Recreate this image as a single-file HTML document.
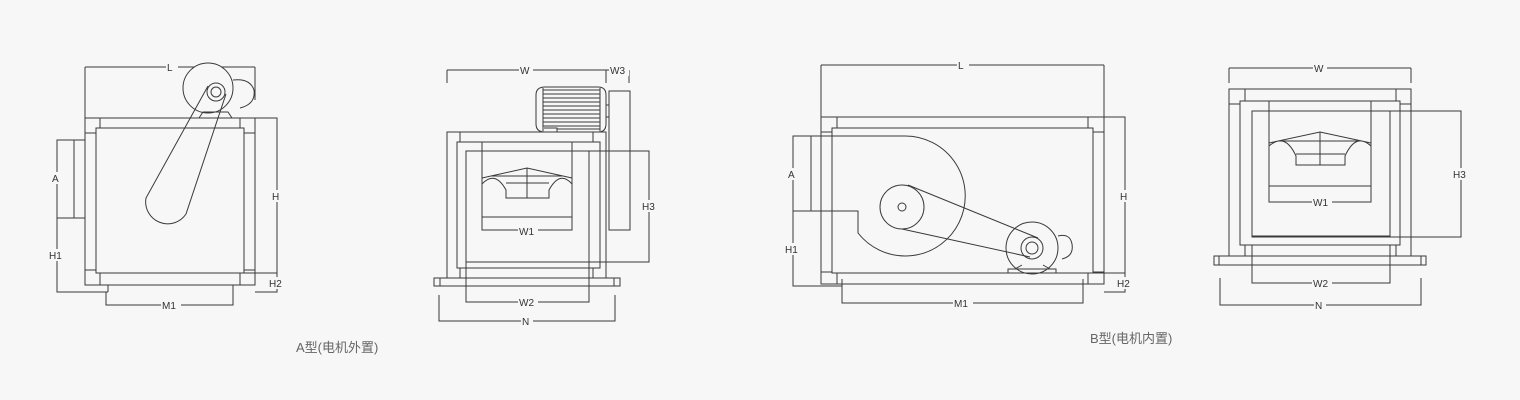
<!DOCTYPE html>
<html><head><meta charset="utf-8"><style>
html,body{margin:0;padding:0;background:#f7f7f7;}
svg{display:block}
text{font-family:"Liberation Sans","Noto Sans CJK SC",sans-serif;fill:#333;font-size:10px;}
.cap{fill:#666;font-size:13px;}
</style></head><body>
<svg width="1520" height="400" viewBox="0 0 1520 400" xmlns="http://www.w3.org/2000/svg">
<g fill="none" stroke="#3a3a3a" stroke-width="1">
<!-- ===== Drawing A side ===== -->
<path d="M85,67H255M85,67V118M255,67V100"/>
<rect x="85" y="118" width="170" height="167"/>
<rect x="96" y="128" width="148" height="145"/>
<path d="M100,118V128M240,118V128M100,273V285M240,273V285M85,133H96M244,133H255M85,270H96M244,270H255"/>
<rect x="57" y="140" width="28" height="78"/>
<path d="M74,140V218"/>
<path d="M57,140V292H108M108,285V292"/>
<path d="M106,292V305H233V292M233,285V292"/>
<path d="M255,118H277V292H255M244,273H277"/>
<circle cx="208" cy="88" r="25" fill="#f7f7f7"/>
<circle cx="216" cy="92" r="9"/><circle cx="216" cy="92" r="5"/>
<path d="M233,80Q250,78 254,90Q256,104 240,108"/>
<path d="M199,118L203,112H228L232,118"/>
<path d="M208,86L146,198A22,22 0 0 0 186,214L226,94"/>
<!-- ===== Drawing A front ===== -->
<path d="M447,70H606M447,70V83M606,70V83M606,70H629M629,70V83"/>
<path d="M545,87H598Q606,87 606,95V124Q606,132 598,132H545Q536,132 536,124V95Q536,87 545,87Z"/>
<path d="M543,90H600M543,94H600M543,98H600M543,102H600M543,106H600M543,110H600M543,114H600M543,118H600M543,122H600M543,126H600"/>
<path d="M543,88V131M600,88V131M544,128H557V132M557,129H600"/>
<rect x="606" y="105" width="3" height="12"/>
<rect x="609" y="91" width="21" height="139"/>
<rect x="447" y="132" width="159" height="146"/>
<path d="M460,132V142M460,268V278M593,132V142M593,268V278"/>
<rect x="457" y="142" width="143" height="126" fill="#f7f7f7"/>
<rect x="466" y="151" width="123" height="111"/>
<rect x="482" y="142" width="90" height="88"/>
<path d="M482,217H572"/>
<path d="M482,178L527,168L572,178M492,176H562M506,183H549M527,168V198M482,184Q495,170 506,190V198H549V190Q560,170 572,184"/>
<path d="M589,151H649V262H589"/>
<rect x="434" y="278" width="186" height="8"/>
<path d="M440,278V286M614,278V286"/>
<path d="M466,262V302H589V262"/>
<path d="M439,295V321H615V295"/>
<!-- ===== Drawing B side ===== -->
<path d="M821,65H1104M821,65V117M1104,65V117"/>
<rect x="821" y="117" width="283" height="167"/>
<rect x="832" y="128" width="261" height="145"/>
<path d="M837,117V128M1088,117V128M837,273V284M1088,273V284M821,132H832M1093,132H1104M821,272H832M1093,272H1104"/>
<rect x="793" y="136" width="28" height="75"/>
<path d="M811,136V211"/>
<path d="M821,136H905A60,60 0 1 1 858,233V211H821"/>
<circle cx="902" cy="207" r="22"/><circle cx="902" cy="207" r="4"/>
<circle cx="1032" cy="248" r="26"/><circle cx="1032" cy="248" r="11"/><circle cx="1032" cy="248" r="6"/>
<path d="M1058,236Q1070,233 1072,244Q1074,256 1062,259"/>
<path d="M908,185L1038,238M902,229L1030,257"/>
<path d="M1008,273V269H1056V273M1015,269L1022,265M1050,269L1043,265"/>
<path d="M793,136V286H842M842,279V290"/>
<path d="M842,290V303H1083V290M1083,279V290"/>
<path d="M1104,117H1125V292H1104M1093,273H1125"/>
<!-- ===== Drawing B front ===== -->
<path d="M1229,68H1411M1229,68V83M1411,68V83"/>
<rect x="1229" y="89" width="182" height="167"/>
<path d="M1245,89V101M1396,89V101M1245,245V256M1396,245V256M1229,104H1240M1400,104H1411"/>
<rect x="1240" y="101" width="160" height="144" fill="#f7f7f7"/>
<rect x="1252" y="111" width="138" height="126"/>
<path d="M1252,236H1390"/>
<rect x="1269" y="101" width="102" height="101"/>
<path d="M1269,186H1371"/>
<path d="M1269,143L1320,132L1371,143M1280,141H1360M1296,154H1345M1320,132V165M1269,146Q1285,132 1296,156V165H1345V156Q1356,132 1371,146"/>
<path d="M1390,111H1461V237H1390"/>
<rect x="1214" y="256" width="212" height="9"/>
<path d="M1219,256V265M1421,256V265"/>
<path d="M1252,245V283H1390V245"/>
<path d="M1220,278V305H1421V278"/>
</g>
<g>
<!-- labels A side -->
<rect x="166" y="61" width="12" height="12" fill="#f7f7f7"/><text x="167" y="71">L</text>
<rect x="50" y="172" width="12" height="12" fill="#f7f7f7"/><text x="52" y="182">A</text>
<rect x="47" y="249" width="18" height="12" fill="#f7f7f7"/><text x="49" y="259">H1</text>
<rect x="271" y="190" width="12" height="12" fill="#f7f7f7"/><text x="272" y="200">H</text>
<rect x="268" y="277" width="18" height="12" fill="#f7f7f7"/><text x="269" y="287">H2</text>
<rect x="161" y="299" width="20" height="12" fill="#f7f7f7"/><text x="162" y="309">M1</text>
<!-- front A -->
<rect x="519" y="64" width="14" height="12" fill="#f7f7f7"/><text x="520" y="74">W</text>
<rect x="609" y="64" width="20" height="12" fill="#f7f7f7"/><text x="610" y="74">W3</text>
<rect x="641" y="200" width="18" height="12" fill="#f7f7f7"/><text x="642" y="210">H3</text>
<rect x="518" y="225" width="20" height="12" fill="#f7f7f7"/><text x="519" y="235">W1</text>
<rect x="518" y="296" width="20" height="12" fill="#f7f7f7"/><text x="519" y="306">W2</text>
<rect x="521" y="315" width="12" height="12" fill="#f7f7f7"/><text x="522" y="325">N</text>
<!-- B side -->
<rect x="957" y="59" width="12" height="12" fill="#f7f7f7"/><text x="958" y="69">L</text>
<rect x="786" y="168" width="12" height="12" fill="#f7f7f7"/><text x="788" y="178">A</text>
<rect x="783" y="243" width="18" height="12" fill="#f7f7f7"/><text x="785" y="253">H1</text>
<rect x="1119" y="190" width="12" height="12" fill="#f7f7f7"/><text x="1120" y="200">H</text>
<rect x="1116" y="277" width="18" height="12" fill="#f7f7f7"/><text x="1117" y="287">H2</text>
<rect x="953" y="297" width="20" height="12" fill="#f7f7f7"/><text x="954" y="307">M1</text>
<!-- B front -->
<rect x="1313" y="62" width="14" height="12" fill="#f7f7f7"/><text x="1314" y="72">W</text>
<rect x="1453" y="168" width="18" height="12" fill="#f7f7f7"/><text x="1453" y="178">H3</text>
<rect x="1312" y="196" width="20" height="12" fill="#f7f7f7"/><text x="1313" y="206">W1</text>
<rect x="1312" y="277" width="20" height="12" fill="#f7f7f7"/><text x="1313" y="287">W2</text>
<rect x="1314" y="299" width="12" height="12" fill="#f7f7f7"/><text x="1315" y="309">N</text>
<text class="cap" x="296" y="352">A型(电机外置)</text>
<text class="cap" x="1090" y="343">B型(电机内置)</text>
</g>
</svg>
</body></html>
